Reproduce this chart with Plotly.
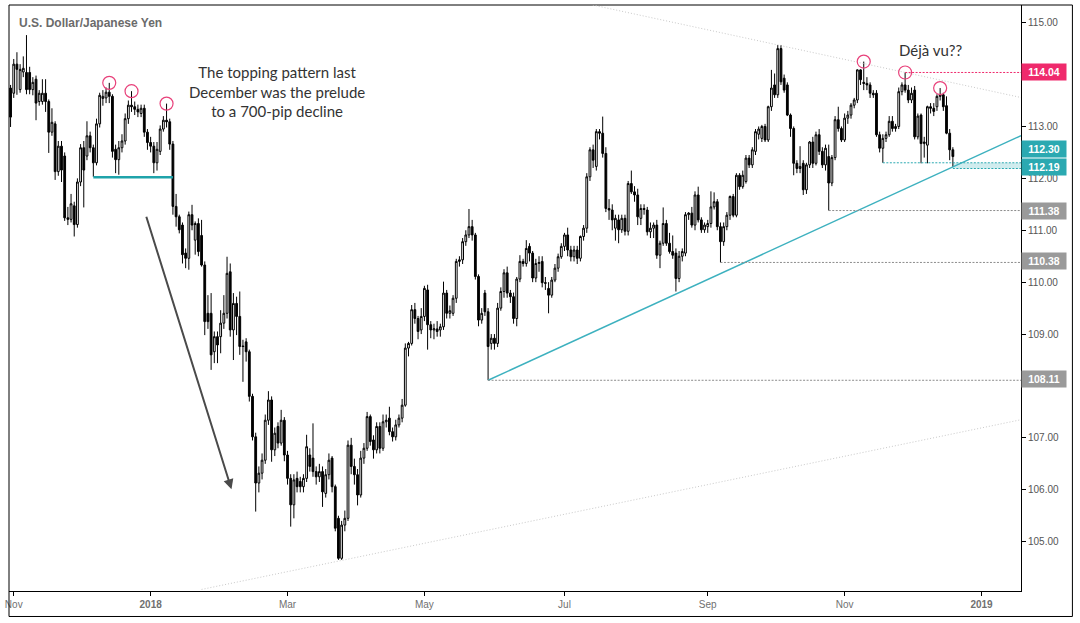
import pandas as pd
import plotly.graph_objects as go

# ---------------- data (USD/JPY daily) ----------------
START_DATE = "2017-10-31"

open_ = [
    113.74, 113.64, 114.20, 113.71, 114.05, 114.04, 114.04, 113.71, 113.91, 113.48,
    113.48, 113.64, 113.48, 112.89, 113.05, 112.13, 112.62, 112.43, 111.24, 111.21,
    111.47, 111.11, 111.93, 112.59, 112.43, 112.82, 112.59, 112.30, 113.05, 113.54,
    113.55, 113.66, 113.58, 112.56, 112.36, 112.59, 112.72, 113.15, 113.41, 113.38,
    113.33, 113.25, 113.35, 112.89, 112.69, 112.62, 112.30, 112.52, 112.95, 113.12,
    113.09, 112.66, 111.46, 111.26, 111.10, 110.56, 110.46, 111.30, 110.81, 111.13,
    110.90, 110.33, 109.40, 109.40, 108.66, 108.95, 108.95, 109.21, 109.40, 110.20,
    109.08, 109.59, 109.34, 108.77, 108.85, 108.66, 107.80, 107.02, 106.13, 106.32,
    106.57, 107.34, 107.73, 106.77, 107.22, 106.90, 107.34, 106.67, 106.22, 105.71,
    106.22, 106.16, 106.06, 106.22, 106.67, 106.61, 106.35, 106.25, 106.35, 105.93,
    106.29, 106.61, 106.06, 105.45, 104.68, 105.32, 105.45, 106.86, 106.45, 106.29,
    105.90, 106.61, 106.80, 107.41, 106.96, 106.77, 107.22, 106.80, 107.31, 107.38,
    107.12, 107.02, 107.25, 107.38, 107.63, 108.73, 108.82, 109.47, 109.30, 109.08,
    109.34, 109.85, 109.18, 109.08, 109.10, 109.08, 109.14, 109.79, 109.40, 109.40,
    109.69, 110.40, 110.43, 110.78, 110.91, 111.07, 110.91, 110.11, 109.27, 109.79,
    109.43, 108.82, 108.92, 108.82, 109.50, 109.82, 110.18, 109.79, 109.72, 109.30,
    110.06, 110.40, 110.36, 110.69, 110.56, 110.08, 110.36, 110.40, 109.99, 109.88,
    109.75, 110.04, 110.27, 110.49, 110.69, 110.91, 110.62, 110.49, 110.62, 110.46,
    110.88, 111.04, 112.03, 112.55, 112.23, 112.90, 112.87, 112.48, 111.42, 111.39,
    111.04, 111.20, 111.01, 111.23, 110.98, 111.90, 111.74, 111.68, 111.23, 111.42,
    111.39, 110.97, 111.04, 111.10, 110.52, 110.75, 111.13, 110.75, 110.59, 110.56,
    110.07, 110.50, 110.56, 111.30, 111.33, 111.10, 111.68, 111.20, 111.01, 111.07,
    111.13, 111.45, 111.55, 111.07, 110.78, 111.07, 111.29, 111.65, 111.29, 112.06,
    111.84, 111.94, 112.39, 112.26, 112.52, 112.85, 112.77, 113.00, 112.74, 113.38,
    113.80, 113.61, 114.50, 113.93, 113.80, 113.22, 112.96, 112.29, 112.19, 112.29,
    111.78, 112.26, 112.70, 112.29, 112.84, 112.52, 112.26, 112.42, 111.91, 112.40,
    113.13, 112.96, 112.74, 113.16, 113.22, 113.41, 113.51, 114.09, 113.85, 113.83,
    113.80, 113.64, 113.64, 112.84, 112.58, 112.77, 112.84, 113.10, 112.96, 113.00,
    113.67, 113.80, 113.70, 113.51, 113.70, 112.80, 113.22, 112.67, 112.64, 113.38,
    113.35, 113.38, 113.58, 113.61, 113.40, 112.87, 112.55,
]

high = [
    113.80, 114.30, 114.43, 114.20, 114.35, 114.76, 114.15, 113.95, 113.98, 113.70,
    113.91, 113.91, 113.52, 113.35, 113.10, 112.72, 112.72, 112.50, 111.45, 111.70,
    111.55, 112.00, 112.66, 112.72, 113.10, 112.90, 112.65, 113.15, 113.65, 113.70,
    113.75, 113.84, 113.62, 112.65, 112.72, 112.85, 113.25, 113.50, 113.68, 113.48,
    113.42, 113.42, 113.42, 112.95, 112.80, 112.70, 112.70, 113.02, 113.20, 113.44,
    113.15, 112.72, 111.70, 111.30, 111.15, 110.65, 111.36, 111.49, 111.17, 111.23,
    111.20, 110.40, 109.75, 109.79, 109.05, 109.05, 109.46, 109.75, 110.49, 110.36,
    109.79, 109.72, 109.82, 108.89, 108.92, 108.70, 107.85, 107.10, 106.45, 106.70,
    107.45, 107.90, 107.80, 107.20, 107.30, 107.54, 107.40, 106.75, 106.30, 106.30,
    106.35, 106.25, 106.30, 107.06, 106.80, 107.28, 106.45, 106.50, 106.45, 106.40,
    106.70, 106.65, 106.10, 105.50, 105.40, 105.60, 106.95, 107.00, 106.60, 106.40,
    106.75, 106.90, 107.50, 107.45, 107.05, 107.30, 107.30, 107.45, 107.45, 107.60,
    107.20, 107.35, 107.45, 107.75, 108.82, 108.85, 109.56, 109.60, 109.35, 109.50,
    109.93, 109.95, 109.25, 109.20, 109.25, 109.20, 110.01, 109.85, 109.55, 109.75,
    110.45, 110.50, 110.85, 111.00, 111.41, 111.20, 110.95, 110.15, 109.50, 109.85,
    109.50, 109.00, 109.00, 109.60, 109.90, 110.25, 110.30, 109.85, 109.80, 110.10,
    110.52, 110.45, 110.81, 110.75, 110.60, 110.45, 110.50, 110.50, 110.10, 110.00,
    110.10, 110.35, 110.55, 110.75, 110.95, 111.05, 110.70, 110.70, 110.70, 110.90,
    111.10, 112.10, 112.60, 112.65, 112.95, 112.95, 113.19, 112.60, 111.60, 111.50,
    111.30, 111.30, 111.30, 111.30, 111.95, 112.15, 111.85, 111.80, 111.50, 111.50,
    111.45, 111.15, 111.15, 111.20, 110.80, 111.44, 111.20, 110.95, 110.90, 110.65,
    110.60, 110.65, 111.35, 111.35, 111.45, 111.75, 111.84, 111.25, 111.15, 111.20,
    111.75, 111.73, 111.60, 111.15, 111.15, 111.35, 111.67, 111.70, 112.10, 112.10,
    112.15, 112.45, 112.45, 112.60, 112.95, 113.00, 113.03, 113.05, 113.40, 114.09,
    114.02, 114.57, 114.57, 114.00, 113.85, 113.25, 113.00, 112.35, 112.62, 112.35,
    112.30, 112.72, 112.80, 112.90, 112.95, 112.60, 112.65, 112.65, 112.45, 113.20,
    113.38, 113.00, 113.25, 113.30, 113.45, 113.55, 114.10, 114.10, 114.25, 113.95,
    113.85, 113.70, 113.70, 112.90, 112.85, 112.90, 113.20, 113.20, 113.05, 113.75,
    113.85, 114.04, 113.80, 113.75, 113.78, 113.25, 113.25, 112.80, 113.40, 113.45,
    113.45, 113.62, 113.74, 113.65, 113.58, 112.95, 112.60,
]

low = [
    112.99, 113.55, 113.61, 113.65, 113.95, 113.62, 113.62, 113.60, 113.12, 113.40,
    113.42, 113.28, 112.49, 112.82, 111.97, 112.05, 111.93, 111.18, 111.10, 111.15,
    110.88, 111.05, 111.85, 111.44, 112.35, 112.50, 112.03, 112.25, 112.98, 113.40,
    113.45, 113.45, 112.40, 112.10, 112.07, 112.50, 112.65, 113.05, 113.28, 113.22,
    113.18, 113.18, 112.80, 112.55, 112.50, 112.10, 112.15, 112.45, 112.90, 112.98,
    112.55, 111.30, 111.07, 110.94, 110.36, 110.27, 110.24, 111.00, 110.53, 110.50,
    110.30, 108.98, 109.10, 108.31, 108.44, 108.44, 108.63, 109.10, 109.30, 108.95,
    108.50, 108.98, 108.60, 108.08, 108.47, 107.70, 106.95, 105.58, 105.95, 106.20,
    106.50, 107.25, 106.54, 106.65, 106.80, 106.85, 106.55, 106.10, 105.29, 105.45,
    105.95, 105.95, 105.95, 106.15, 106.35, 106.25, 106.10, 106.15, 105.67, 105.85,
    106.20, 105.95, 105.20, 104.65, 104.65, 105.20, 105.40, 106.30, 106.10, 105.70,
    105.85, 106.50, 106.75, 106.85, 106.60, 106.70, 106.70, 106.75, 107.20, 107.05,
    106.93, 106.95, 107.20, 107.30, 107.60, 108.57, 108.78, 109.20, 108.90, 109.00,
    109.25, 108.70, 108.92, 108.90, 108.95, 108.95, 109.08, 109.30, 109.30, 109.35,
    109.60, 110.30, 110.35, 110.70, 110.85, 110.80, 110.05, 109.15, 109.20, 109.35,
    108.11, 108.70, 108.70, 108.75, 109.45, 109.70, 109.70, 109.60, 109.20, 109.15,
    110.00, 110.30, 110.30, 110.40, 110.00, 110.00, 110.20, 109.90, 109.85, 109.40,
    109.70, 110.00, 110.20, 110.45, 110.60, 110.50, 110.40, 110.40, 110.35, 110.40,
    110.80, 110.95, 111.95, 112.20, 112.15, 112.75, 112.40, 111.35, 111.20, 111.00,
    110.80, 110.75, 110.95, 110.90, 110.90, 111.70, 111.55, 111.10, 111.10, 111.30,
    110.90, 110.85, 110.85, 110.45, 110.27, 110.70, 110.70, 110.55, 110.45, 109.82,
    110.00, 110.40, 110.50, 111.20, 111.05, 111.00, 111.15, 110.95, 110.95, 110.95,
    111.05, 111.40, 111.00, 110.38, 110.70, 111.00, 111.20, 111.25, 111.25, 111.78,
    111.80, 111.90, 112.20, 112.20, 112.45, 112.75, 112.70, 112.70, 112.70, 113.30,
    113.55, 113.55, 113.80, 113.65, 113.20, 112.80, 112.06, 112.10, 112.10, 111.68,
    111.70, 112.20, 112.20, 112.25, 112.45, 112.20, 112.15, 111.38, 111.85, 112.35,
    112.90, 112.70, 112.70, 113.05, 113.15, 113.35, 113.45, 113.80, 113.70, 113.70,
    113.55, 113.55, 112.80, 112.50, 112.30, 112.70, 112.80, 112.90, 112.90, 112.95,
    113.60, 113.65, 113.45, 113.45, 112.75, 112.75, 112.29, 112.40, 112.29, 113.25,
    113.20, 113.30, 113.50, 113.30, 112.85, 112.35, 112.22,
]

close = [
    113.18, 114.20, 114.10, 114.10, 114.12, 113.71, 113.71, 113.85, 113.45, 113.64,
    113.64, 113.48, 112.89, 113.08, 112.13, 112.62, 112.16, 111.24, 111.21, 111.51,
    111.11, 111.93, 112.59, 112.16, 112.82, 112.59, 112.30, 113.05, 113.60, 113.58,
    113.66, 113.58, 112.52, 112.36, 112.59, 112.72, 113.15, 113.41, 113.38, 113.33,
    113.28, 113.35, 112.89, 112.69, 112.62, 112.30, 112.56, 112.95, 113.12, 113.09,
    112.66, 111.46, 111.26, 111.01, 110.53, 110.46, 111.30, 111.10, 111.13, 110.59,
    110.33, 109.24, 109.24, 108.60, 108.95, 108.79, 109.21, 109.40, 110.17, 109.08,
    109.59, 109.34, 108.76, 108.76, 108.66, 107.80, 107.02, 106.13, 106.32, 106.57,
    107.34, 107.73, 106.77, 107.09, 106.90, 107.34, 106.67, 106.22, 105.71, 106.19,
    106.06, 106.06, 106.22, 106.83, 106.45, 106.35, 106.25, 106.35, 105.96, 106.29,
    106.57, 106.06, 105.26, 104.68, 105.32, 105.45, 106.86, 106.45, 106.29, 105.90,
    106.61, 106.80, 107.41, 106.93, 106.77, 107.22, 106.80, 107.31, 107.34, 107.12,
    107.02, 107.25, 107.38, 107.63, 108.73, 108.82, 109.47, 109.30, 109.05, 109.34,
    109.88, 109.18, 109.08, 109.10, 109.05, 109.14, 109.79, 109.40, 109.45, 109.69,
    110.40, 110.43, 110.78, 110.91, 111.07, 110.91, 110.11, 109.27, 109.40, 109.43,
    108.76, 108.92, 108.82, 109.50, 109.82, 110.18, 109.79, 109.72, 109.30, 110.06,
    110.40, 110.36, 110.65, 110.56, 110.08, 110.36, 110.38, 109.99, 109.98, 109.75,
    110.04, 110.27, 110.49, 110.69, 110.91, 110.62, 110.49, 110.62, 110.46, 110.88,
    111.04, 112.03, 112.55, 112.35, 112.90, 112.87, 112.48, 111.42, 111.39, 111.20,
    111.23, 111.01, 111.23, 110.98, 111.90, 111.74, 111.68, 111.26, 111.42, 111.40,
    110.97, 111.04, 111.10, 110.52, 110.75, 111.13, 110.75, 110.59, 110.52, 110.07,
    110.50, 110.59, 111.30, 111.33, 111.10, 111.68, 111.20, 111.01, 111.10, 111.13,
    111.45, 111.55, 111.07, 110.78, 111.07, 111.29, 111.65, 111.29, 112.06, 111.84,
    112.06, 112.39, 112.26, 112.55, 112.90, 112.95, 113.00, 112.74, 113.38, 113.74,
    113.61, 114.50, 113.86, 113.70, 113.22, 112.96, 112.29, 112.19, 112.23, 111.78,
    112.26, 112.70, 112.29, 112.84, 112.52, 112.26, 112.58, 111.91, 112.40, 113.13,
    112.96, 112.74, 113.16, 113.22, 113.41, 113.51, 114.09, 113.90, 113.83, 113.80,
    113.64, 113.61, 112.84, 112.58, 112.77, 112.84, 113.10, 112.96, 113.00, 113.67,
    113.80, 113.70, 113.51, 113.64, 112.80, 113.20, 112.67, 112.70, 113.38, 113.35,
    113.29, 113.58, 113.61, 113.38, 112.87, 112.55, 112.42,
]

# marked support / resistance levels (label text, colour)
levels = [114.04, 112.30, 112.19, 111.38, 110.38, 108.11]
level_colors = ["#EF2A6C", "#2BA9B1", "#2BA9B1", "#9A9A9A", "#9A9A9A", "#9A9A9A"]
level_line_colors = ["#EF2A6C", "#2BA9B1", "#2BA9B1", "#8C8C8C", "#8C8C8C", "#8C8C8C"]
level_label_shift = [0, 13.5, 1.5, 0, 1.5, 1]

y_ticks = [105, 106, 107, 108, 109, 110, 111, 112, 113, 114, 115]
y_ticks_hidden = [108, 114]          # covered by the level labels in the original
x_tick_months = [(2017, 11, "Nov"), (2018, 1, "<b>2018</b>"), (2018, 3, "Mar"),
                 (2018, 5, "May"), (2018, 7, "Jul"), (2018, 9, "Sep"),
                 (2018, 11, "Nov"), (2019, 1, "<b>2019</b>")]

neckline_level = 112.02
lower_trend = dict(x0=60, y0=104.08, x1=317.4, y1=107.35)

# ---------------- derived positions ----------------
n = len(close)
xs = list(range(n))
all_days = pd.bdate_range(START_DATE, "2019-01-31")
tickvals, ticktext = [], []
for yy, mm, lab in x_tick_months:
    first = all_days[(all_days.year == yy) & (all_days.month == mm)][0]
    tickvals.append(int(all_days.get_loc(first)))
    ticktext.append(lab)

X_MIN, X_MAX = -0.49, 317.4
Y_MIN, Y_MAX = 104.05, 115.34

fig = go.Figure(go.Candlestick(
    x=xs, open=open_, high=high, low=low, close=close,
    increasing=dict(line=dict(color="black", width=1), fillcolor="white"),
    decreasing=dict(line=dict(color="black", width=1), fillcolor="black"),
    whiskerwidth=0, showlegend=False,
))

shapes = []
# outer frame
shapes.append(dict(type="rect", xref="paper", yref="paper", x0=0, x1=1.0508,
                   y0=-0.0435, y1=1, line=dict(color="black", width=1), layer="above"))

# upper resistance (through Oct and late-Nov highs), light dotted
ia, ib = 241, 281
slope_u = (high[ib] - high[ia]) / (ib - ia)
xu0 = ia + (Y_MAX - high[ia]) / slope_u
yu1 = high[ia] + slope_u * (X_MAX - ia)
shapes.append(dict(type="line", xref="x", yref="y", x0=xu0, y0=Y_MAX, x1=X_MAX, y1=yu1,
                   line=dict(color="#c9c9c9", width=1, dash="1px,2px")))
# lower long-term support, light dotted
shapes.append(dict(type="line", xref="x", yref="y", **lower_trend,
                   line=dict(color="#c9c9c9", width=1, dash="1px,2px")))

# rising trend line from May low through the latest low
ta, tb = low.index(108.11), n - 1
slope_t = (low[tb] - low[ta]) / (tb - ta)
shapes.append(dict(type="line", xref="x", yref="y", x0=ta, y0=low[ta], x1=X_MAX,
                   y1=low[ta] + slope_t * (X_MAX - ta),
                   line=dict(color="#3DB1BF", width=1.5)))

# neckline of the Dec-2017 top
na = low.index(112.03)
shapes.append(dict(type="line", xref="x", yref="y", x0=na, y0=neckline_level, x1=na + 25,
                   y1=neckline_level, line=dict(color="#1FA3AA", width=2.5)))

# level lines
starts = {114.04: high.index(114.04), 112.30: low.index(112.30), 112.19: n - 1,
          111.38: low.index(111.38), 110.38: low.index(110.38), 108.11: low.index(108.11)}
for lv, col in zip(levels, level_line_colors):
    shapes.append(dict(type="line", xref="x", yref="y", x0=starts[lv], x1=X_MAX,
                       y0=lv, y1=lv, line=dict(color=col, width=1, dash="2px,1.5px")))
# shaded zone between 112.19 and 112.30
shapes.append(dict(type="rect", xref="x", yref="y", x0=n - 1, x1=X_MAX, y0=112.19, y1=112.30,
                   fillcolor="rgba(43,169,177,0.22)", line=dict(width=0), layer="below"))

# circles round the peaks
peak_idx = [31, 38, 49, 268, 281, 292]
for pi in peak_idx:
    shapes.append(dict(type="circle", xref="x", yref="y", xsizemode="pixel", ysizemode="pixel",
                       xanchor=pi, yanchor=high[pi], x0=-6.5, x1=6.5, y0=-6.5, y1=6.5,
                       line=dict(color="#E8407A", width=1.2)))

annotations = []
annotations.append(dict(xref="paper", yref="paper", x=0.0079, y=0.9693, xanchor="left",
                        yanchor="middle", showarrow=False,
                        text="<b>U.S. Dollar/Japanese Yen</b>",
                        font=dict(family="Liberation Sans, Arial", size=12, color="#6b6b6b")))
annotations.append(dict(xref="paper", yref="paper", x=0.2653, y=0.852, xanchor="center",
                        yanchor="middle", showarrow=False, align="center",
                        text="The topping pattern last<br>December was the prelude<br>to a 700-pip decline",
                        font=dict(family="Lato, Noto Sans", size=15, color="#333333")))
annotations.append(dict(xref="paper", yref="paper", x=0.9103, y=0.9232, xanchor="center",
                        yanchor="middle", showarrow=False, text="Déjà vu??",
                        font=dict(family="Lato, Noto Sans", size=15, color="#333333")))
annotations.append(dict(xref="x", yref="y", x=69.4, y=106.01, axref="x", ayref="y",
                        ax=42.5, ay=111.29, text="", showarrow=True, arrowhead=2,
                        arrowsize=1, arrowwidth=2, arrowcolor="#4a4a4a", standoff=0,
                        startstandoff=0))
for lv, col, sh in zip(levels, level_colors, level_label_shift):
    annotations.append(dict(xref="paper", yref="y", x=1.0, y=lv, xanchor="left",
                            yanchor="middle", yshift=sh, showarrow=False,
                            text="<b>%.2f</b>" % lv, bgcolor=col, width=40, height=12,
                            borderpad=2, align="center",
                            font=dict(family="Liberation Sans, Arial", size=10.5, color="white")))

fig.update_layout(
    width=1080, height=623,
    margin=dict(l=7, r=59, t=5, b=32),
    paper_bgcolor="white", plot_bgcolor="white",
    showlegend=False, boxgap=0.2,
    xaxis=dict(range=[X_MIN, X_MAX], rangeslider=dict(visible=False),
               tickmode="array", tickvals=tickvals, ticktext=ticktext,
               ticks="outside", ticklen=4, tickcolor="black",
               showline=True, linecolor="black", linewidth=1,
               showgrid=False, zeroline=False,
               tickfont=dict(family="Liberation Sans, Arial", size=10, color="#707070")),
    yaxis=dict(side="right", range=[Y_MIN, Y_MAX],
               tickmode="array", tickvals=y_ticks,
               ticktext=["" if v in y_ticks_hidden else "%.2f" % v for v in y_ticks],
               ticks="outside", ticklen=4, tickcolor="black",
               showline=True, linecolor="black", linewidth=1,
               showgrid=False, zeroline=False,
               tickfont=dict(family="Liberation Sans, Arial", size=10, color="#555555")),
    shapes=shapes, annotations=annotations,
)

fig.write_html("out.html")
